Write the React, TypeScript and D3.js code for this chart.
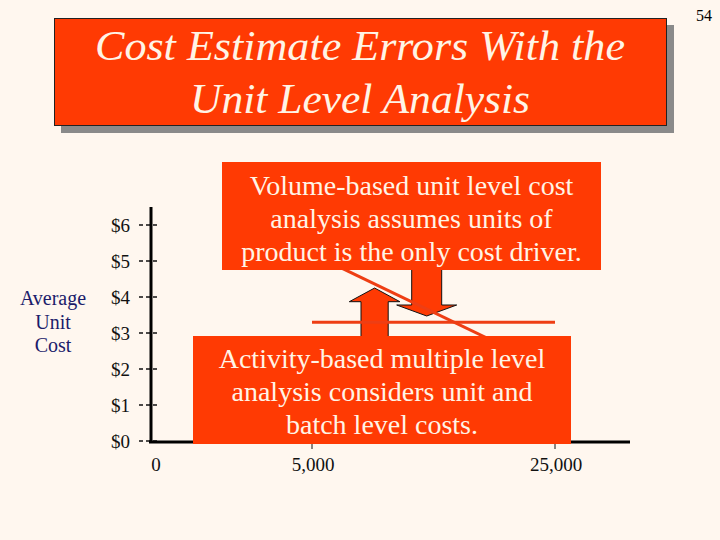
import React, { useEffect, useRef } from 'react';
import * as d3 from 'd3';

// chart data
const xTickValues = [0, 5000, 25000];
const xTickLabels = ['0', '5,000', '25,000'];
const yTickValues = [0, 1, 2, 3, 4, 5, 6];
const yTickLabels = ['$0', '$1', '$2', '$3', '$4', '$5', '$6'];

const volumeUnits = [5000, 25000];
const volumeCost = [5.2, 1.95];
const activityUnits = [5000, 25000];
const activityCost = [3.3, 3.3];

const titleLines = ['Cost Estimate Errors With the', 'Unit Level Analysis'];
const yLabelLines = ['Average', 'Unit', 'Cost'];
const volumeNote = ['Volume-based unit level cost', 'analysis assumes units of', 'product is the only cost driver.'];
const activityNote = ['Activity-based multiple level', 'analysis considers unit and', 'batch level costs.'];

const RED = '#FF3A03';
const CREAM = '#FFF4E6';
const BG = '#FFF7EF';
const SERIF = '"Liberation Serif", "Times New Roman", serif';

export default function App() {
  const ref = useRef<SVGSVGElement>(null);

  useEffect(() => {
    const svg = d3.select(ref.current);
    svg.selectAll('*').remove();

    const x = d3.scaleLinear().domain([0, 5000, 25000]).range([151, 312, 555]);
    const y = d3.scaleLinear().domain([0, 6.5]).range([441, 207]);

    svg.append('rect').attr('width', 720).attr('height', 540).attr('fill', BG);

    // page number
    svg.append('text')
      .attr('x', 704).attr('y', 21)
      .attr('text-anchor', 'middle')
      .attr('font-family', SERIF).attr('font-size', 16)
      .text('54');

    // title box with shadow
    svg.append('rect').attr('x', 61).attr('y', 25).attr('width', 613).attr('height', 108).attr('fill', '#8a8a8a');
    svg.append('rect').attr('x', 54.5).attr('y', 18.5).attr('width', 612).attr('height', 107)
      .attr('fill', RED).attr('stroke', '#222').attr('stroke-width', 1);
    const titleWidths = [530, 340];
    svg.append('g')
      .selectAll('text')
      .data(titleLines)
      .enter()
      .append('text')
      .attr('x', 360).attr('y', (d, i) => 60 + i * 53)
      .attr('text-anchor', 'middle')
      .attr('font-family', SERIF).attr('font-style', 'italic').attr('font-size', 43)
      .attr('textLength', (d, i) => titleWidths[i])
      .attr('lengthAdjust', 'spacingAndGlyphs')
      .attr('fill', CREAM)
      .text(d => d);

    // y axis label
    svg.append('g')
      .selectAll('text')
      .data(yLabelLines)
      .enter()
      .append('text')
      .attr('x', 53).attr('y', (d, i) => 298 + i * 23.5)
      .attr('dy', '0.35em')
      .attr('text-anchor', 'middle')
      .attr('font-family', SERIF).attr('font-size', 20)
      .attr('fill', '#1c1c6b')
      .text(d => d);

    // y ticks
    const yt = svg.append('g');
    yt.selectAll('line')
      .data(yTickValues)
      .enter()
      .append('line')
      .attr('x1', 139).attr('x2', 160)
      .attr('y1', d => y(d)).attr('y2', d => y(d))
      .attr('stroke', '#111').attr('stroke-width', 1.5)
      .attr('stroke-dasharray', '4,3');
    yt.selectAll('text')
      .data(yTickValues)
      .enter()
      .append('text')
      .attr('x', 130).attr('y', d => y(d))
      .attr('dy', '0.35em')
      .attr('text-anchor', 'end')
      .attr('font-family', SERIF).attr('font-size', 19)
      .attr('fill', '#111')
      .text((d, i) => yTickLabels[i]);

    // x ticks
    const xt = svg.append('g');
    xt.selectAll('line')
      .data(xTickValues.slice(1))
      .enter()
      .append('line')
      .attr('x1', d => x(d)).attr('x2', d => x(d))
      .attr('y1', y(0)).attr('y2', y(0) + 8)
      .attr('stroke', '#111').attr('stroke-width', 1);
    xt.selectAll('text')
      .data(xTickValues)
      .enter()
      .append('text')
      .attr('x', d => x(d) + (d === 0 ? 5 : 1)).attr('y', y(0) + 30)
      .attr('text-anchor', 'middle')
      .attr('font-family', SERIF).attr('font-size', 19)
      .attr('fill', '#111')
      .text((d, i) => xTickLabels[i]);

    // axes
    svg.append('line')
      .attr('x1', x(0)).attr('x2', x(0))
      .attr('y1', y(6.5)).attr('y2', y(0) + 2)
      .attr('stroke', '#000').attr('stroke-width', 3);
    svg.append('line')
      .attr('x1', x(0) - 2).attr('x2', 630)
      .attr('y1', y(0) + 1).attr('y2', y(0) + 1)
      .attr('stroke', '#000').attr('stroke-width', 3);

    const line = d3.line<[number, number]>().x(d => x(d[0])).y(d => y(d[1]));

    // arrows
    const arrow = (cx: number, tipY: number, baseY: number, headY: number, headHalf: number, shaftHalf: number) =>
      `M${cx},${tipY} L${cx + headHalf},${headY} L${cx + shaftHalf},${headY} L${cx + shaftHalf},${baseY} ` +
      `L${cx - shaftHalf},${baseY} L${cx - shaftHalf},${headY} L${cx - headHalf},${headY} Z`;

    svg.append('path')
      .attr('d', arrow(374.6, y(4.25), 337, 301.7, 25.3, 13.6))
      .attr('fill', RED).attr('stroke', '#111').attr('stroke-width', 1);
    svg.append('path')
      .attr('d', arrow(426.7, 316, 269, 305, 30, 15))
      .attr('fill', RED).attr('stroke', '#111').attr('stroke-width', 1);

    // cost lines
    svg.append('path')
      .attr('d', line(activityUnits.map((u, i) => [u, activityCost[i]] as [number, number])))
      .attr('fill', 'none').attr('stroke', '#EE3E14').attr('stroke-width', 3);
    svg.append('path')
      .attr('d', line(volumeUnits.map((u, i) => [u, volumeCost[i]] as [number, number])))
      .attr('fill', 'none').attr('stroke', '#EE3E14').attr('stroke-width', 3);

    // note boxes
    const note = (lines: string[], bx: number, by: number, bw: number, bh: number, firstY: number) => {
      const g = svg.append('g');
      g.append('rect').attr('x', bx).attr('y', by).attr('width', bw).attr('height', bh).attr('fill', RED);
      g.selectAll('text')
        .data(lines)
        .enter()
        .append('text')
        .attr('x', bx + bw / 2).attr('y', (d, i) => firstY + i * 33)
        .attr('dy', '0.35em')
        .attr('text-anchor', 'middle')
        .attr('font-family', SERIF).attr('font-size', 28)
        .attr('fill', CREAM)
        .text(d => d);
    };
    note(volumeNote, 222, 162, 379, 108, 185);
    note(activityNote, 193, 336, 378, 108, 358.5);
  }, []);

  return (
    <svg ref={ref} width={720} height={540} style={{ position: 'absolute', left: 0, top: 0 }} />
  );
}
